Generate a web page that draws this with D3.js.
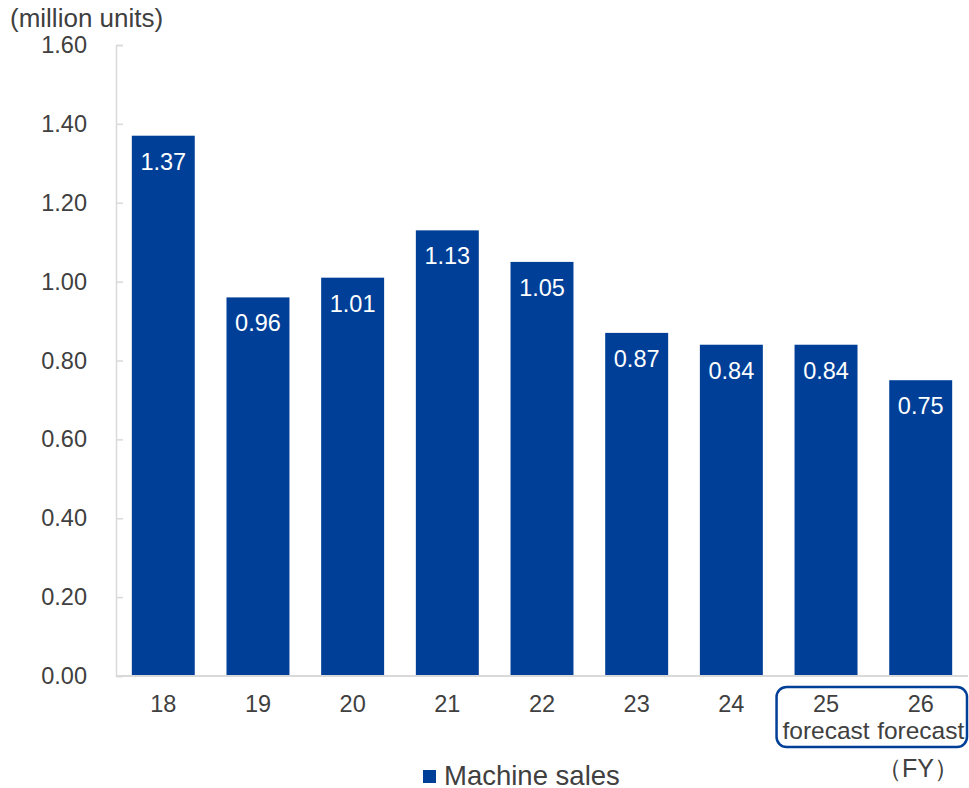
<!DOCTYPE html>
<html>
<head>
<meta charset="utf-8">
<script src="https://cdn.jsdelivr.net/npm/d3@7"></script>
<style>
  html, body { margin: 0; padding: 0; background: #fff; }
  svg { display: block; }
  text { font-family: "Liberation Sans", Arial, sans-serif; }
</style>
</head>
<body>
<svg id="chart" width="969" height="788"></svg>
<script>
// Fiscal years and machine sales (million units)
const years = ["18", "19", "20", "21", "22", "23", "24", "25", "26"];
const subLabels = ["", "", "", "", "", "", "", "forecast", "forecast"];
const sales = [1.37, 0.96, 1.01, 1.13, 1.05, 0.87, 0.84, 0.84, 0.75];
const yTicks = [0, 0.2, 0.4, 0.6, 0.8, 1.0, 1.2, 1.4, 1.6];

const barColor = "#003f98";
const textColor = "#404040";
const axisColor = "#d9d9d9";
const fs = 23.5;

const svg = d3.select("#chart");
const plotLeft = 116, plotRight = 968, plotTop = 45, plotBottom = 676;

const x = d3.scaleBand().domain(years).range([plotLeft, plotRight]).paddingInner(0.335).paddingOuter(0.167);
const y = d3.scaleLinear().domain([0, 1.6]).range([plotBottom, plotTop]);

// Y axis: ticks pointing into the plot
const yAxis = d3.axisRight(y).tickValues(yTicks).tickSize(7).tickFormat("");
const yg = svg.append("g").attr("transform", `translate(${plotLeft},0)`).call(yAxis);
yg.select(".domain").attr("stroke", axisColor).attr("stroke-width", 1.5);
yg.selectAll(".tick line").attr("stroke", axisColor).attr("stroke-width", 1.5);

svg.append("g").selectAll("text").data(yTicks).join("text")
  .attr("x", 87).attr("y", d => y(d) + 8)
  .attr("text-anchor", "end").attr("font-size", fs).attr("fill", textColor)
  .text(d => d.toFixed(2));

// Bars
svg.append("g").selectAll("rect").data(sales).join("rect")
  .attr("x", (d, i) => x(years[i]))
  .attr("width", x.bandwidth())
  .attr("y", d => y(d))
  .attr("height", d => y(0) - y(d))
  .attr("fill", barColor);

// Value labels inside the bars
svg.append("g").selectAll("text").data(sales).join("text")
  .attr("x", (d, i) => x(years[i]) + x.bandwidth() / 2)
  .attr("y", d => y(d) + 34)
  .attr("text-anchor", "middle").attr("font-size", fs).attr("fill", "#fff")
  .text(d => d.toFixed(2));

// Baseline
svg.append("line").attr("x1", plotLeft).attr("x2", plotRight).attr("y1", y(0)).attr("y2", y(0))
  .attr("stroke", axisColor).attr("stroke-width", 2);

// Category labels
const xl = svg.append("g");
xl.selectAll("text.yr").data(years).join("text").attr("class", "yr")
  .attr("x", d => x(d) + x.bandwidth() / 2).attr("y", 712)
  .attr("text-anchor", "middle").attr("font-size", fs).attr("fill", textColor)
  .text(d => d);
xl.selectAll("text.sub").data(years.filter((d, i) => subLabels[i])).join("text").attr("class", "sub")
  .attr("x", d => x(d) + x.bandwidth() / 2).attr("y", 739)
  .attr("text-anchor", "middle").attr("font-size", 24.5).attr("fill", textColor)
  .text(d => subLabels[years.indexOf(d)]);

// Box around forecast years
const fx0 = x("25") - 18, fx1 = plotRight - 1;
svg.append("rect").attr("x", fx0).attr("y", 687).attr("width", fx1 - fx0).attr("height", 60)
  .attr("rx", 10).attr("fill", "none").attr("stroke", barColor).attr("stroke-width", 2.5);

// Unit and period labels
svg.append("text").attr("x", 10).attr("y", 27).attr("font-size", 26).attr("fill", textColor)
  .text("(million units)");
svg.append("text").attr("x", 877).attr("y", 777).attr("font-size", 25).attr("fill", textColor)
  .attr("font-family", "'Noto Sans CJK JP', sans-serif").text("（FY）");

// Legend
const lg = svg.append("g").attr("transform", "translate(423,770)");
lg.append("rect").attr("width", 13).attr("height", 13).attr("fill", barColor);
lg.append("text").attr("x", 21).attr("y", 15).attr("font-size", 27.5).attr("fill", textColor)
  .text("Machine sales");
</script>
</body>
</html>
